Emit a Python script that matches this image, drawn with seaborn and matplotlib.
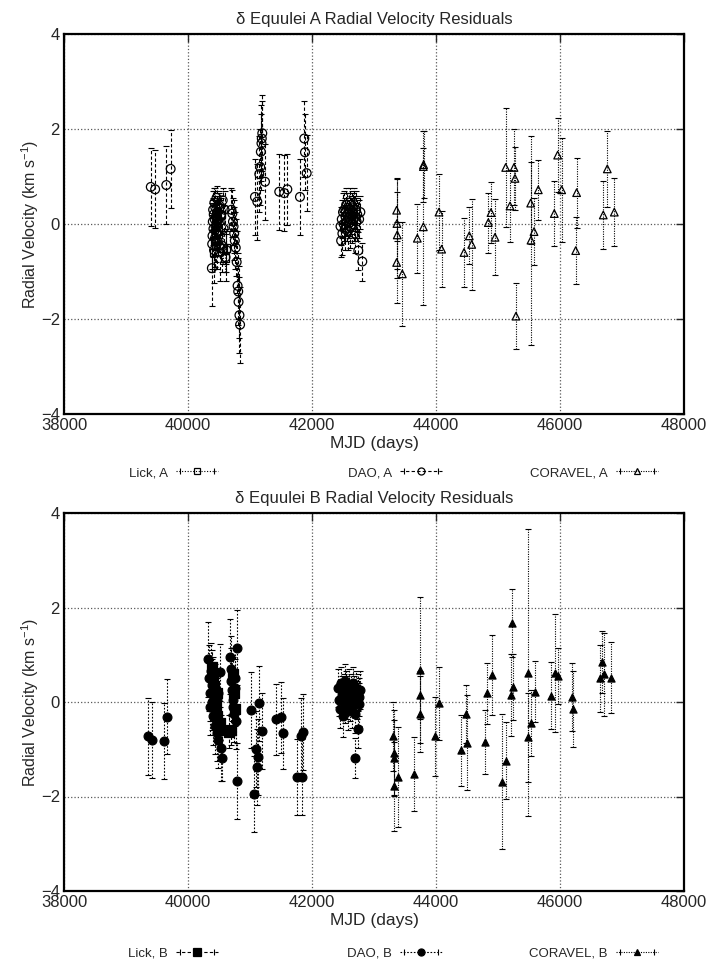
import numpy as np
import pandas as pd
import matplotlib
matplotlib.use("Agg")
import matplotlib.pyplot as plt
from matplotlib.lines import Line2D
from matplotlib.legend_handler import HandlerLine2D
import seaborn as sns

sns.set_style("white")
plt.rcParams['font.family'] = ['Liberation Sans', 'DejaVu Sans']
plt.rcParams['mathtext.default'] = 'regular'

# ---- delta Equulei A residuals ----
lick_a_mjd = [40420, 40440, 40460, 40480, 40500, 40530, 40560, 40600, 40620]
lick_a_rv = [-0.60, -0.35, 0.10, -0.15, 0.35, 0.20, -0.50, -0.72, -0.50]
lick_a_err = [0.35, 0.30, 0.35, 0.30, 0.30, 0.35, 0.35, 0.30, 0.35]

dao_a_mjd = [39400, 39470, 39650, 39720,
             40385, 40390, 40395, 40400, 40405, 40410, 40415, 40420, 40425, 40430,
             40435, 40440, 40445, 40450, 40455, 40460, 40465, 40470, 40475, 40480,
             40490, 40500, 40510, 40520, 40530, 40545, 40560, 40575, 40590, 40605, 40620,
             40700, 40715, 40725, 40735, 40745, 40755, 40770, 40785, 40800, 40810,
             40815, 40830, 40840,
             41080, 41118, 41150, 41165, 41175, 41185, 41190, 41198, 41242,
             41472, 41553, 41602, 41806, 41876, 41887, 41914,
             42460, 42470, 42480, 42490, 42500, 42510, 42520, 42530, 42540, 42550,
             42560, 42570, 42580, 42590, 42600, 42610, 42620, 42630, 42640, 42650,
             42660, 42670, 42680, 42690, 42700, 42710, 42720, 42730, 42747, 42760,
             42780, 42811]
dao_a_rv = [0.78, 0.73, 0.82, 1.16,
            -0.93, -0.42, -0.25, 0.05, 0.30, -0.10, 0.20, -0.55, 0.45, 0.10,
            -0.30, 0.35, -0.05, 0.15, -0.20, 0.55, 0.00, 0.25, -0.35, 0.10,
            -0.15, 0.40, 0.05, -0.60, 0.20, -0.45, 0.50, -0.10, 0.30, -0.70, -0.55,
            0.30, 0.22, 0.05, -0.05, -0.20, -0.35, -0.50, -0.80, -1.30, -1.42,
            -1.64, -1.92, -2.12,
            0.57, 0.47, 1.05, 1.20, 1.52, 1.70, 1.80, 1.91, 0.89,
            0.68, 0.65, 0.73, 0.57, 1.80, 1.51, 1.07,
            -0.05, -0.35, 0.10, -0.20, 0.25, 0.00, 0.30, -0.10, 0.15, 0.40,
            0.05, 0.20, -0.15, 0.30, 0.10, 0.45, -0.05, 0.20, 0.35, 0.00,
            0.25, 0.10, 0.40, -0.20, 0.15, 0.30, 0.05, 0.20, -0.56, 0.10,
            0.25, -0.79]
dao_a_err = [0.82, 0.82, 0.82, 0.82,
             0.80, 0.60, 0.70, 0.50, 0.40, 0.60, 0.50, 0.70, 0.30, 0.50,
             0.60, 0.40, 0.50, 0.30, 0.60, 0.25, 0.50, 0.35, 0.60, 0.40,
             0.50, 0.30, 0.45, 0.60, 0.40, 0.55, 0.25, 0.50, 0.40, 0.50, 0.45,
             0.45, 0.50, 0.50, 0.55, 0.55, 0.60, 0.60, 0.65, 0.70, 0.70,
             0.75, 0.80, 0.80,
             0.80, 0.80, 0.80, 0.80, 0.80, 0.80, 0.80, 0.80, 0.80,
             0.80, 0.80, 0.75, 0.80, 0.80, 0.80, 0.80,
             0.40, 0.35, 0.40, 0.45, 0.40, 0.35, 0.40, 0.45, 0.40, 0.35,
             0.40, 0.45, 0.40, 0.35, 0.40, 0.30, 0.45, 0.40, 0.35, 0.40,
             0.40, 0.45, 0.35, 0.40, 0.45, 0.40, 0.40, 0.35, 0.40, 0.40,
             0.35, 0.40]

cor_a_mjd = [43365, 43370, 43375, 43365, 43457, 43699, 43796, 43800, 43796,
             44048, 44091, 44452, 44537, 44576, 44844, 44887, 44952,
             45124, 45194, 45258, 45274, 45290, 45527, 45532, 45581, 45650,
             45908, 45962, 46027, 46253, 46268, 46698, 46763, 46876]
cor_a_rv = [0.29, 0.01, -0.23, -0.81, -1.05, -0.30, 1.21, 1.25, -0.06,
            0.25, -0.53, -0.60, -0.25, -0.43, 0.03, 0.24, -0.28,
            1.19, 0.38, 1.19, 0.96, -1.94, 0.44, -0.34, -0.16, 0.72,
            0.22, 1.45, 0.72, -0.56, 0.66, 0.19, 1.16, 0.25]
cor_a_err = [0.65, 0.95, 0.90, 0.85, 1.10, 0.73, 0.75, 0.70, 1.65,
             0.80, 0.80, 0.72, 0.60, 0.95, 0.63, 0.65, 0.80,
             1.25, 0.75, 0.80, 0.67, 0.70, 0.87, 2.20, 0.70, 0.63,
             0.68, 0.78, 1.10, 0.70, 0.74, 0.72, 0.80, 0.72]

# ---- delta Equulei B residuals ----
lick_b_mjd = [40382, 40400, 40415, 40430, 40445, 40460, 40475, 40490, 40510,
              40666, 40690, 40720, 40740, 40760]
lick_b_rv = [0.75, 0.55, 0.33, 0.09, -0.09, 0.20, -0.30, -0.59, -0.45,
             -0.63, -0.60, 0.60, 0.20, -0.15]
lick_b_err = [0.35, 0.30, 0.35, 0.30, 0.35, 0.30, 0.35, 0.30, 0.35,
              0.35, 0.30, 0.35, 0.30, 0.35]

dao_b_mjd = [39360, 39414, 39618, 39667,
             40328, 40340, 40350, 40360, 40370, 40380, 40390, 40400, 40410, 40420,
             40430, 40440, 40450, 40460, 40470, 40480, 40490, 40500, 40516, 40530, 40553,
             40677, 40690, 40700, 40710, 40720, 40730, 40740, 40750, 40760, 40770,
             40785, 40790,
             41016, 41070, 41091, 41113, 41134, 41150, 41188,
             41419, 41500, 41538, 41753, 41833, 41823, 41860,
             42420, 42435, 42450, 42465, 42480, 42495, 42510, 42525, 42540, 42555,
             42570, 42585, 42600, 42615, 42630, 42645, 42660, 42675, 42690, 42705,
             42720, 42735, 42750, 42760, 42770, 42693, 42747]
dao_b_rv = [-0.73, -0.80, -0.83, -0.31,
            0.90, 0.50, 0.20, -0.10, 0.65, 0.35, 0.00, -0.30, 0.45, 0.15,
            -0.50, 0.30, -0.15, 0.05, -0.65, -0.80, 0.20, -0.40, 0.63, -0.98, -1.18,
            0.96, 0.70, 0.45, 0.25, 0.05, -0.10, -0.25, 0.50, 0.30, -0.40,
            1.15, -1.67,
            -0.17, -1.95, -1.00, -1.38, -1.17, -0.03, -0.61,
            -0.37, -0.32, -0.66, -1.59, -1.59, -0.72, -0.64,
            0.30, 0.05, -0.15, 0.40, 0.15, -0.30, 0.20, 0.45, -0.05, 0.25,
            0.10, -0.20, 0.35, 0.00, 0.20, -0.10, 0.40, 0.15, -0.25, 0.30,
            0.05, 0.20, -0.05, 0.10, 0.25, -1.19, -0.57]
dao_b_err = [0.82, 0.80, 0.80, 0.80,
             0.80, 0.70, 0.60, 0.60, 0.60, 0.55, 0.60, 0.60, 0.50, 0.55,
             0.60, 0.50, 0.55, 0.50, 0.60, 0.60, 0.50, 0.60, 0.60, 0.70, 0.50,
             0.80, 0.70, 0.70, 0.65, 0.60, 0.60, 0.60, 0.65, 0.60, 0.60,
             0.80, 0.80,
             0.80, 0.80, 0.80, 0.80, 0.80, 0.80, 0.80,
             0.75, 0.75, 0.75, 0.80, 0.80, 0.80, 0.80,
             0.40, 0.35, 0.40, 0.35, 0.40, 0.45, 0.40, 0.35, 0.40, 0.40,
             0.45, 0.40, 0.35, 0.40, 0.40, 0.45, 0.35, 0.40, 0.40, 0.35,
             0.40, 0.40, 0.45, 0.40, 0.40, 0.42, 0.40]

cor_b_mjd = [43311, 43323, 43330, 43318, 43392, 43645, 43742, 43748, 43748,
             43989, 44048, 44403, 44478, 44505, 44790, 44827, 44898,
             45069, 45129, 45204, 45231, 45236, 45478, 45489, 45527, 45597,
             45850, 45919, 45973, 46188, 46215, 46645, 46672, 46710, 46823]
cor_b_rv = [-0.73, -1.07, -1.19, -1.78, -1.58, -1.52, 0.68, 0.15, -0.25,
            -0.73, -0.03, -1.02, -0.25, -0.86, -0.84, 0.18, 0.57,
            -1.69, -1.24, 0.15, 1.67, 0.31, 0.62, -0.75, -0.45, 0.22,
            0.13, 0.62, 0.55, 0.10, -0.15, 0.50, 0.85, 0.59, 0.51]
cor_b_err = [0.72, 0.90, 0.80, 0.94, 1.06, 0.78, 1.55, 0.50, 0.80,
             0.84, 0.78, 0.75, 0.62, 1.00, 0.68, 0.65, 0.85,
             1.43, 0.82, 0.86, 0.72, 0.70, 3.04, 0.94, 0.70, 0.65,
             0.71, 1.25, 0.60, 0.72, 0.80, 0.71, 0.65, 0.88, 0.75]

x_ticks = [38000, 40000, 42000, 44000, 46000, 48000]
y_ticks = [-4, -2, 0, 2, 4]

fig = plt.figure(figsize=(7.1, 9.63), dpi=100)
ax_a = fig.add_axes([64 / 710, 1 - 414 / 963, 620 / 710, 380 / 963])
ax_b = fig.add_axes([64 / 710, 1 - 891 / 963, 620 / 710, 378 / 963])


def draw_series(ax, mjd, rv, err, marker, filled, dash, msize):
    df = pd.DataFrame({'mjd': mjd, 'rv': rv, 'err': err})
    eb = ax.errorbar(df['mjd'], df['rv'], yerr=df['err'], fmt='none', ecolor='black',
                     elinewidth=0.8, capsize=2.2, capthick=0.8, zorder=2)
    eb[2][0].set_linestyle(dash)
    sns.scatterplot(data=df, x='mjd', y='rv', ax=ax, marker=marker, s=msize,
                    facecolor='black' if filled else 'none', edgecolor='black',
                    linewidth=0.9, legend=False, zorder=3)
    line = Line2D([], [], color='black', lw=0.8, linestyle=dash)
    caps = Line2D([], [], color='black', lw=0, marker='|', markersize=4, markeredgewidth=0.8)
    mark = Line2D([], [], ls='none', marker=marker, markersize=np.sqrt(msize) * 0.8,
                  markerfacecolor='black' if filled else 'none', markeredgecolor='black',
                  markeredgewidth=0.9)
    return (line, caps, mark), caps


def style_axes(ax, title):
    ax.set_xlim(38000, 48000)
    ax.set_ylim(-4, 4)
    ax.set_xticks(x_ticks)
    ax.set_yticks(y_ticks)
    ax.grid(True, linestyle=':', color='0.35', linewidth=0.9)
    ax.tick_params(direction='in', length=6, width=1, top=True, right=True,
                   labelsize=12, pad=3)
    for sp in ax.spines.values():
        sp.set_linewidth(1.6)
        sp.set_color('black')
    ax.set_xlabel('MJD (days)', fontsize=12.5, labelpad=2)
    ax.set_ylabel('Radial Velocity (km s$^{-1}$)', fontsize=11.5, labelpad=0)
    ax.set_title(title, fontsize=12, pad=7)


def add_key(entries, y_fig):
    for (handle, caps), label, x_end in entries:
        fig.legend([handle], [label], loc='center right',
                   bbox_to_anchor=(x_end / 710, y_fig), frameon=False,
                   markerfirst=False, fontsize=9.5, handlelength=3.2,
                   handletextpad=0.6, borderpad=0, borderaxespad=0,
                   handler_map={caps: HandlerLine2D(numpoints=2)})


h1 = draw_series(ax_a, lick_a_mjd, lick_a_rv, lick_a_err, 's', False, (0, (1, 1.5)), 30)
h2 = draw_series(ax_a, dao_a_mjd, dao_a_rv, dao_a_err, 'o', False, (0, (3, 2)), 40)
h3 = draw_series(ax_a, cor_a_mjd, cor_a_rv, cor_a_err, '^', False, (0, (1, 1.2)), 30)
style_axes(ax_a, '\u03b4 Equulei A Radial Velocity Residuals')
add_key([(h1, 'Lick, A', 218), (h2, 'DAO, A', 442), (h3, 'CORAVEL, A', 658)], 1 - 473 / 963)

h4 = draw_series(ax_b, lick_b_mjd, lick_b_rv, lick_b_err, 's', True, (0, (3, 2)), 45)
h5 = draw_series(ax_b, dao_b_mjd, dao_b_rv, dao_b_err, 'o', True, (0, (1.5, 1.5)), 40)
h6 = draw_series(ax_b, cor_b_mjd, cor_b_rv, cor_b_err, '^', True, (0, (1, 1.2)), 26)
style_axes(ax_b, '\u03b4 Equulei B Radial Velocity Residuals')
add_key([(h4, 'Lick, B', 218), (h5, 'DAO, B', 442), (h6, 'CORAVEL, B', 658)], 1 - 953 / 963)

fig.savefig('out.png', dpi=100)
